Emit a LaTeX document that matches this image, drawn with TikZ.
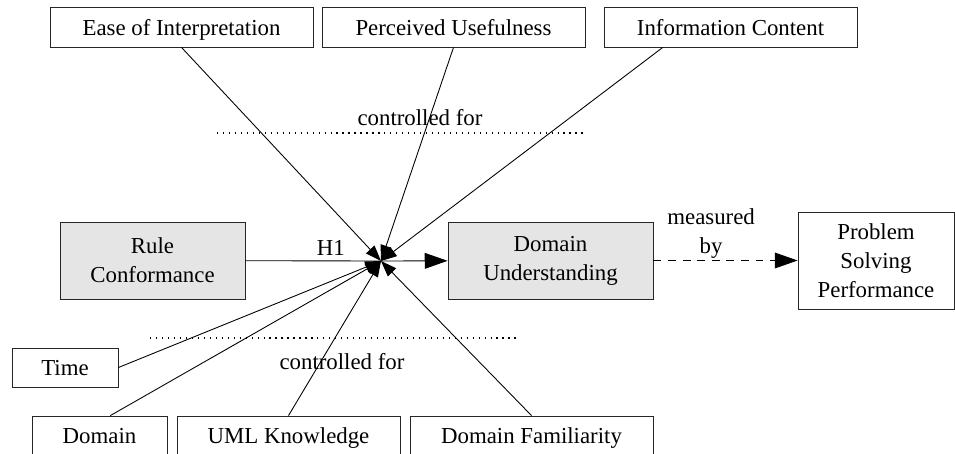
\documentclass[tikz,border=0pt]{standalone}
\usepackage{fontspec}
\setmainfont{Liberation Serif}
\usetikzlibrary{arrows.meta,calc}

\begin{document}
\begin{tikzpicture}[x=0.02cm,y=-0.02cm,
	font=\fontsize{13}{16.5}\selectfont,
	box/.style={draw=black!85,line width=0.5pt,rectangle,align=center,inner sep=0pt,minimum height=0.8cm},
	single/.style={box,text depth=0pt},
	construct/.style={box,fill=black!10,minimum height=1.54cm},
	link/.style={line width=0.5pt,-{Triangle[length=9pt,width=6.5pt]}},
	main/.style={line width=0.5pt,-{Triangle[length=13pt,width=9pt]}},
	sep/.style={line width=0.6pt,dash pattern=on 0.7pt off 2.7pt}]
	\clip (0,0) rectangle (955,453);
	% controlled variables, top row
	\node[single,minimum width=5.26cm] (ease) at (181.5,27) {Ease of Interpretation};
	\node[single,minimum width=5.26cm] (useful) at (453.5,27) {Perceived Usefulness};
	\node[single,minimum width=5.06cm] (info) at (730.5,27) {Information Content};
	% main constructs
	\node[construct,minimum width=3.7cm] (rule) at (152.5,260.5) {Rule\\Conformance};
	\node[construct,minimum width=4.1cm] (underst) at (550.5,260.5) {Domain\\Understanding};
	\node[box,minimum width=3.12cm,minimum height=1.94cm] (problem) at (876,260.5) {Problem\\Solving\\Performance};
	% controlled variables, bottom
	\node[single,minimum width=2.12cm,minimum height=0.78cm] (time) at (65,367.5) {Time};
	\node[single,minimum width=2.7cm] (domain) at (99.5,436) {Domain};
	\node[single,minimum width=4.46cm] (uml) at (288.5,436) {UML Knowledge};
	\node[single,minimum width=4.86cm] (famil) at (531.5,436) {Domain Familiarity};

	\coordinate (hub) at (381,261);

	\draw[line width=0.5pt] (rule) -- node[above,pos=.63,inner sep=3pt]{H1} (hub);
	\draw[main] (hub) -- (underst);
	\draw[main,dash pattern=on 4.5pt off 3.8pt] (underst) -- node[above,pos=.4,inner sep=1pt,align=center]{measured\\by} (problem);

	\draw[link] (ease.south) -- (hub);
	\draw[link] (useful.south) -- (hub);
	\draw[link] ($(info.south west)!.233!(info.south east)$) -- (hub);
	\draw[link] (time.east) -- (hub);
	\draw[link] ($(domain.north west)!.58!(domain.north east)$) -- (hub);
	\draw[link] (uml.north) -- (hub);
	\draw[link] (famil.north) -- (hub);

	% controlled for separators
	\draw[sep] (217,133) -- (586,133);
	\node at (420,118) {controlled for};
	\draw[sep] (150,338) -- (517,338);
	\node at (342,362) {controlled for};
\end{tikzpicture}
\end{document}
